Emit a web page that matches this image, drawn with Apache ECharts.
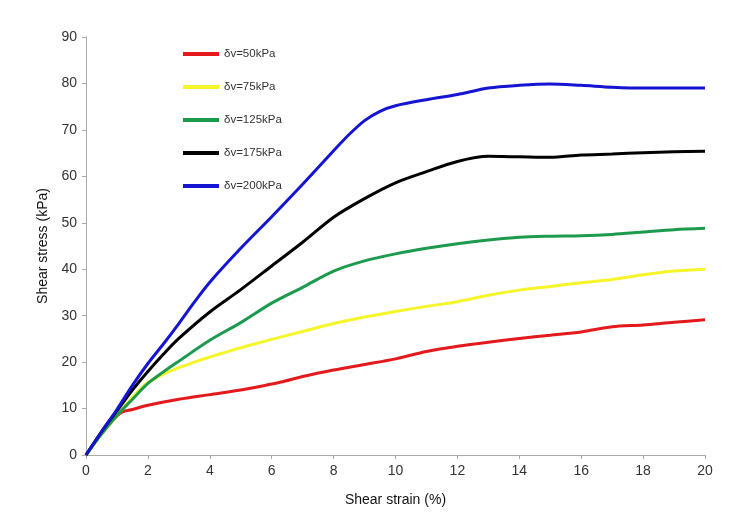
<!DOCTYPE html>
<html>
<head>
<meta charset="utf-8">
<script src="https://cdn.jsdelivr.net/npm/echarts@6/dist/echarts.min.js"></script>
<style>html,body{margin:0;padding:0;background:#fff}#c{width:753px;height:525px}</style>
</head>
<body>
<div id="c"></div>
<script>
const seriesNames = ['δv=50kPa', 'δv=75kPa', 'δv=125kPa', 'δv=175kPa', 'δv=200kPa'];
const xTicks = [0, 2, 4, 6, 8, 10, 12, 14, 16, 18, 20];
const yTicks = [0, 10, 20, 30, 40, 50, 60, 70, 80, 90];

const red = [[0,0],[0.5,4.6],[1.1,9],[1.5,9.8],[2,10.7],[3,12],[4,13],[5,14],[5.8,15],[6.3,15.7],[7,16.9],[8,18.3],[9,19.5],[10,20.7],[11,22.3],[12,23.4],[13,24.3],[14,25.1],[15,25.8],[16,26.5],[17,27.6],[18,28],[19,28.6],[20,29.1]];
const yellow = [[0,0],[0.5,4.5],[1,8.5],[1.5,12.4],[2,15.6],[2.5,17.4],[3,18.8],[3.5,20],[4,21.1],[4.5,22.1],[5,23.1],[6,24.9],[7,26.6],[8,28.3],[9,29.7],[10,30.9],[11,32],[12,33],[13,34.4],[14,35.5],[15,36.3],[16,37.1],[17,37.8],[18,38.8],[19,39.6],[20,40]];
const green = [[0,0],[0.5,4.5],[1,8.5],[1.5,12],[2,15.4],[2.5,17.9],[3,20.2],[4,24.7],[5,28.5],[6,32.7],[7,36.1],[8,39.6],[9,41.8],[10,43.3],[11,44.5],[12,45.5],[13,46.3],[14,46.9],[15,47.1],[16,47.2],[17,47.5],[18,48],[19,48.5],[20,48.8]];
const black = [[0,0],[0.5,5],[1,9.5],[1.5,14],[2,18],[2.5,21.7],[3,25.1],[4,30.8],[5,35.6],[6,40.7],[7,45.8],[8,51.2],[9,55.2],[10,58.6],[11,61],[12,63.2],[13,64.3],[14,64.2],[15,64.1],[16,64.6],[17,64.8],[18,65.1],[19,65.3],[20,65.4]];
const blue = [[0,0],[0.5,5],[1,9.8],[1.5,15],[2,19.7],[2.5,23.9],[3,28.3],[3.5,32.9],[4,37.2],[5,44.5],[6,51.3],[7,58.3],[8,65.5],[8.5,69],[9,72],[9.5,74],[10,75.2],[11,76.5],[12,77.6],[13,79],[14,79.6],[15,79.9],[16,79.6],[17,79.2],[18,79],[19,79],[20,79]];

const colors = ['#e3191c', '#f5f52a', '#1c9a4e', '#000000', '#1414d2'];
const datasets = [red, yellow, green, black, blue];
const font = "'Liberation Sans', Arial, sans-serif";

const chart = echarts.init(document.getElementById('c'), null, {renderer: 'canvas'});
chart.setOption({
  animation: false,
  backgroundColor: '#fff',
  grid: {left: 86, right: 48, top: 37, bottom: 70, containLabel: false},
  legend: {
    orient: 'vertical', left: 178, top: 43,
    itemWidth: 36, itemHeight: 4, itemGap: 21,
    itemStyle: {borderWidth: 0},
    icon: 'rect',
    data: seriesNames,
    textStyle: {fontFamily: font, fontSize: 11.5, color: '#333', padding: [0, 0, 0, 0]}
  },
  xAxis: {
    type: 'value', min: xTicks[0], max: xTicks[xTicks.length - 1], interval: 2,
    name: 'Shear strain (%)', nameLocation: 'middle', nameGap: 38,
    nameTextStyle: {fontFamily: font, fontSize: 14, color: '#111'},
    axisLine: {lineStyle: {color: '#aaa', width: 1}},
    axisTick: {show: true, length: 4, lineStyle: {color: '#aaa'}},
    axisLabel: {fontFamily: font, fontSize: 14, color: '#333', margin: 9},
    splitLine: {show: false}
  },
  yAxis: {
    type: 'value', min: yTicks[0], max: yTicks[yTicks.length - 1], interval: 10,
    name: 'Shear stress (kPa)', nameLocation: 'middle', nameGap: 34, nameRotate: 90,
    nameTextStyle: {fontFamily: font, fontSize: 14, color: '#111'},
    axisLine: {show: true, lineStyle: {color: '#aaa', width: 1}},
    axisTick: {show: true, length: 4, lineStyle: {color: '#aaa'}},
    axisLabel: {fontFamily: font, fontSize: 14, color: '#333', margin: 9},
    splitLine: {show: false}
  },
  series: datasets.map((d, i) => ({
    name: seriesNames[i], type: 'line', data: d,
    smooth: 0.3, showSymbol: false, symbol: 'none',
    color: colors[i],
    lineStyle: {width: 3, color: colors[i]}
  }))
});
</script>
</body>
</html>
